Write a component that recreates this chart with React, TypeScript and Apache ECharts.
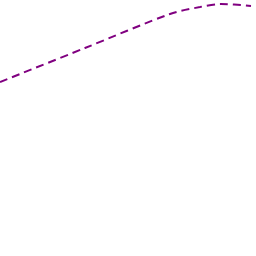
import React, { useEffect, useRef } from "react";
import * as echarts from "echarts";

const xValues = [0, 85, 170, 200, 221, 251];
const yValues = [174, 208, 242, 249, 252, 250];

export default function App() {
  const ref = useRef<HTMLDivElement>(null);
  useEffect(() => {
    if (!ref.current) return;
    const chart = echarts.init(ref.current, undefined, { renderer: "svg" });
    chart.setOption({
      animation: false,
      grid: { left: 0, right: 0, top: 0, bottom: 0 },
      xAxis: { type: "value", min: 0, max: 256, show: false },
      yAxis: { type: "value", min: 0, max: 256, show: false },
      series: [
        {
          type: "line",
          data: xValues.map((x, i) => [x, yValues[i]]),
          smooth: 0.3,
          showSymbol: false,
          lineStyle: { color: "#800080", width: 2, type: [8, 5] },
        },
      ],
    });
    return () => chart.dispose();
  }, []);
  return <div ref={ref} style={{ position: "absolute", left: 0, top: 0, width: 256, height: 256 }} />;
}
